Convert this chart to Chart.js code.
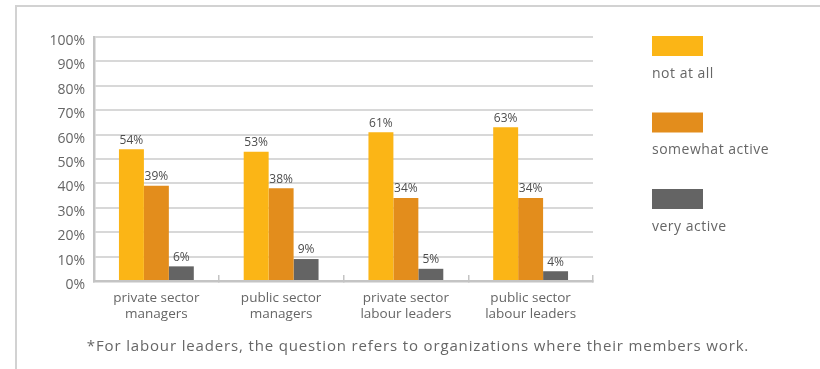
<!DOCTYPE html>
<html>
<head>
<meta charset="utf-8">
<script src="https://cdn.jsdelivr.net/npm/chart.js@4.4.1/dist/chart.umd.min.js"></script>
<style>
  body { margin: 0; background: #fff; }
  #wrap { position: relative; width: 820px; height: 369px; }
</style>
</head>
<body>
<div id="wrap"><canvas id="activity"></canvas></div>
<script>
// groups along the x axis (two lines each)
const groups = [
  ["private sector", "managers"],
  ["public sector", "managers"],
  ["private sector", "labour leaders"],
  ["public sector", "labour leaders"]
]
const seriesNames = ["not at all", "somewhat active", "very active"]
const notAtAll = [54, 53, 61, 63]
const somewhatActive = [39, 38, 34, 34]
const veryActive = [6, 9, 5, 4]
const seriesColours = ["#fbb516", "#e38d1c", "#646464"]
const footnote = "*For labour leaders, the question refers to organizations where their members work."

const FONT = "'Open Sans'"
const TEXT = "#666666"

// value labels above every bar
const barLabels = {
  id: "barLabels",
  afterDatasetsDraw: (chart) => {
    const ctx = chart.ctx
    ctx.save()
    ctx.font = "12px " + FONT
    ctx.fillStyle = "#4d4d4d"
    ctx.textAlign = "center"
    ctx.textBaseline = "bottom"
    chart.data.datasets.forEach((ds, i) => {
      chart.getDatasetMeta(i).data.forEach((bar, j) => {
        ctx.fillText(ds.data[j] + "%", bar.x, bar.y - 3)
      })
    })
    ctx.restore()
  }
}

// frame, stacked legend on the right and the footnote
const extras = {
  id: "extras",
  beforeDraw: (chart) => {
    const ctx = chart.ctx
    ctx.save()
    ctx.strokeStyle = "#d2d2d2"
    ctx.lineWidth = 2
    ctx.beginPath()
    ctx.moveTo(16, chart.height)
    ctx.lineTo(16, 6)
    ctx.lineTo(chart.width, 6)
    ctx.stroke()
    ctx.restore()
  },
  afterDraw: (chart) => {
    const ctx = chart.ctx
    const area = chart.chartArea
    ctx.save()
    const lx = area.right + 59
    ctx.letterSpacing = "0.5px"
    chart.data.datasets.forEach((ds, i) => {
      const top = 36 + i * 76.5
      ctx.fillStyle = ds.backgroundColor
      ctx.fillRect(lx, top, 51, 20)
      ctx.fillStyle = TEXT
      ctx.font = "14px " + FONT
      ctx.textAlign = "left"
      ctx.textBaseline = "middle"
      ctx.fillText(ds.label, lx, top + 38)
    })
    ctx.letterSpacing = "0.85px"
    ctx.font = "15px " + FONT
    ctx.textAlign = "center"
    ctx.textBaseline = "middle"
    ctx.fillText(footnote, 418, 347)
    ctx.restore()
  }
}

const datasets = [notAtAll, somewhatActive, veryActive].map((values, i) => ({
  label: seriesNames[i],
  data: values,
  backgroundColor: seriesColours[i],
  categoryPercentage: 0.6,
  barPercentage: 1.0
}))

new Chart(document.getElementById("activity"), {
  type: "bar",
  data: { labels: groups, datasets: datasets },
  options: {
    responsive: true,
    maintainAspectRatio: false,
    animation: false,
    layout: { padding: { top: 37, right: 227, bottom: 44, left: 0 } },
    plugins: {
      legend: { display: false },
      tooltip: { enabled: false }
    },
    scales: {
      x: {
        grid: { offset: true, drawOnChartArea: false, tickLength: -6, color: "#c4c4c4", lineWidth: 1.5 },
        border: { display: true, color: "#c4c4c4", width: 2.5 },
        ticks: { color: TEXT, font: { family: "Open Sans", size: 13.5, lineHeight: 1.2 }, padding: 15, maxRotation: 0 },
        afterFit: (scale) => { scale.height = 44 }
      },
      y: {
        min: 0,
        max: 100,
        grid: { color: "#d8d8d8", lineWidth: 2, drawTicks: false },
        border: { display: true, color: "#c4c4c4", width: 2.5 },
        ticks: {
          stepSize: 10,
          color: TEXT,
          font: { family: "Open Sans", size: 14 },
          padding: 9,
          labelOffset: 4,
          callback: (v) => v + "%"
        },
        afterFit: (scale) => { scale.width = 94 }
      }
    }
  },
  plugins: [barLabels, extras]
})
</script>
</body>
</html>
